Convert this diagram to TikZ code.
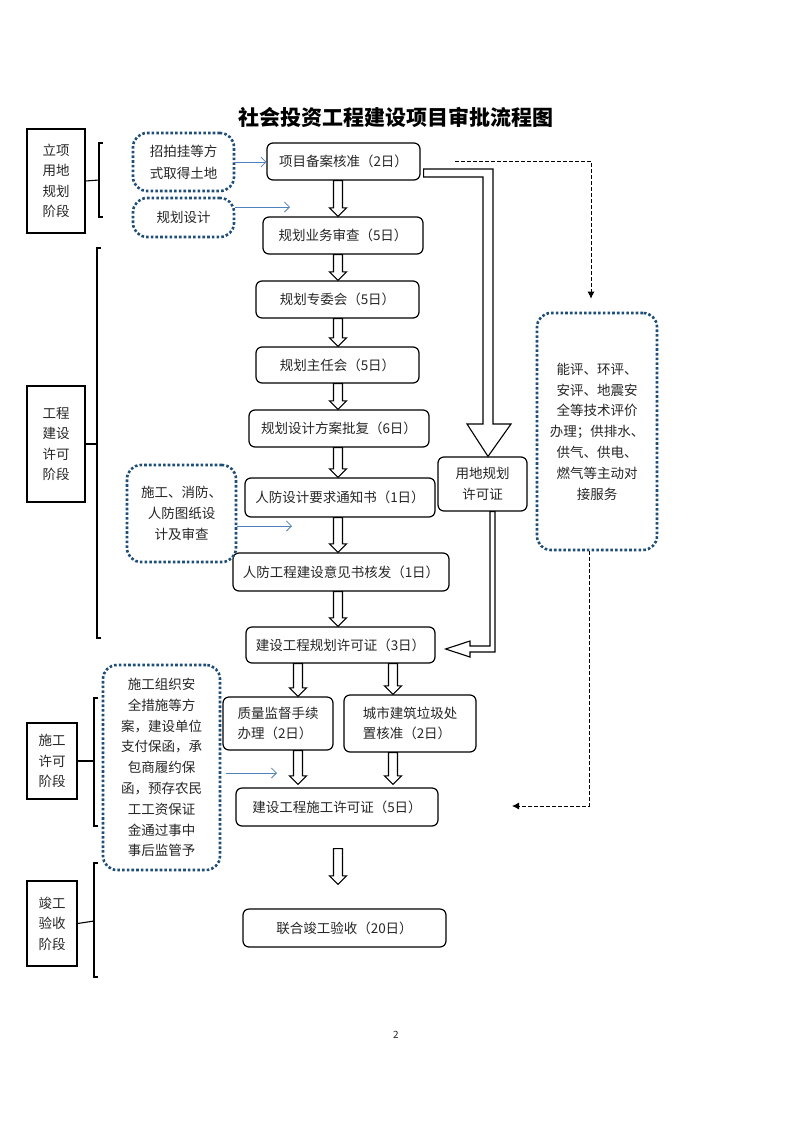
\documentclass[tikz,border=0pt]{standalone}
\usepackage{fontspec}
\setmainfont{Noto Sans CJK SC}
\usetikzlibrary{calc,arrows.meta}
\definecolor{navy}{HTML}{1F4E79}
\definecolor{lblue}{HTML}{4F81BD}
\definecolor{txt}{HTML}{262626}
\newcommand\mybox[7]{\node[#2, minimum width={#5pt-#3pt}, minimum height={#6pt-#4pt}] (#1) at ({(#3+#5)/2},{(#4+#6)/2}) {#7};}
\tikzset{
  mainbox/.style={draw=black, line width=1.2pt, rounded corners=6pt, inner sep=0pt, align=center, text=txt,
    font=\fontsize{13.5}{20.5}\selectfont},
  stagebox/.style={draw=black, line width=1.3pt, inner sep=0pt, align=center, text=txt,
    font=\fontsize{13.5}{20.5}\selectfont},
  dotbox/.style={draw=navy, line width=2.6pt, dash pattern=on 2.6pt off 2.1pt, rounded corners=14pt,
    inner sep=0pt, align=center, text=txt, font=\fontsize{13.5}{20.8}\selectfont},
  bracket/.style={draw=black, line width=1.1pt},
  bluearrow/.style={draw=lblue, line width=0.8pt, -{Straight Barb[length=5pt,width=10pt]}},
  dasharrow/.style={draw=black, line width=0.9pt, dash pattern=on 3.5pt off 2.5pt, -{Latex[length=7pt,width=7pt]}},
  hollowarrow/.style={draw=black, fill=white, line width=1.1pt, line join=miter,
    to path={let \p1=(\tikztostart), \p2=(\tikztotarget) in
      (\x1-4.5pt,\y1) -- (\x1-4.5pt,\y2+8.5pt) -- (\x1-8.5pt,\y2+8.5pt) -- (\x1,\y2)
      -- (\x1+8.5pt,\y2+8.5pt) -- (\x1+4.5pt,\y2+8.5pt) -- (\x1+4.5pt,\y1) -- cycle}},
  hollowL/.style={draw=black, fill=white, line width=1.1pt, line join=miter}
}
\begin{document}
\begin{tikzpicture}[x=1pt,y=-1pt]
\fill[white] (0,0) rectangle (793,1122);
\useasboundingbox (0,0) rectangle (793,1122);

% title
\node[font=\fontsize{21}{25}\selectfont\bfseries, text=black] (title) at (396,117) {社会投资工程建设项目审批流程图};

% stage boxes
\mybox{s1}{stagebox}{27}{129}{85}{233}{立项\\用地\\规划\\阶段}
\mybox{s2}{stagebox}{27}{386}{85}{502}{工程\\建设\\许可\\阶段}
\mybox{s3}{stagebox}{27}{723}{77}{799}{施工\\许可\\阶段}
\mybox{s4}{stagebox}{27}{881}{77}{966}{竣工\\验收\\阶段}

% brackets
\coordinate (b1) at (99,180);
\draw[bracket] (s1.east) -- (b1);
\draw[bracket] (103,143) -- (99,143) -- (99,217) -- (103,217);
\coordinate (b2) at (97,444);
\draw[bracket] (s2.east) -- (b2);
\draw[bracket] (101,248) -- (97,248) -- (97,638) -- (101,638);
\coordinate (b3) at (94,761);
\draw[bracket] (s3.east) -- (b3);
\draw[bracket] (98,698) -- (94,698) -- (94,826) -- (98,826);
\coordinate (b4) at (94,921);
\draw[bracket] (s4.east) -- (b4);
\draw[bracket] (98,863) -- (94,863) -- (94,977) -- (98,977);

% main boxes
\mybox{xm}{mainbox}{267}{143}{420}{180}{项目备案核准（2日）}
\mybox{gh1}{mainbox}{263}{217}{423}{254}{规划业务审查（5日）}
\mybox{gh2}{mainbox}{256}{281}{419}{318}{规划专委会（5日）}
\mybox{gh3}{mainbox}{256}{347}{419}{383}{规划主任会（5日）}
\mybox{gh4}{mainbox}{249}{410}{429}{447}{规划设计方案批复（6日）}
\mybox{rf1}{mainbox}{245}{478}{435}{517}{人防设计要求通知书（1日）}
\mybox{rf2}{mainbox}{233}{553}{449}{591}{人防工程建设意见书核发（1日）}
\mybox{ghxk}{mainbox}{246}{627}{435}{663}{建设工程规划许可证（3日）}
\mybox{zl}{mainbox, align=left}{223}{697}{333}{750}{质量监督手续\\办理（2日）}
\mybox{lj}{mainbox, align=left}{344}{695}{476}{752}{城市建筑垃圾处\\置核准（2日）}
\mybox{sgxk}{mainbox}{236}{788}{438}{826}{建设工程施工许可证（5日）}
\mybox{jg}{mainbox}{243}{909}{446}{947}{联合竣工验收（20日）}
\mybox{yd}{mainbox}{438}{457}{527}{511}{用地规划\\许可证}

% dotted boxes
\mybox{d1}{dotbox, font=\fontsize{13.5}{22}\selectfont}{133}{133}{234}{191}{招拍挂等方\\式取得土地}
\mybox{d2}{dotbox}{133}{198}{234}{237}{规划设计}
\mybox{d3}{dotbox}{127}{465}{236}{562}{施工、消防、\\人防图纸设\\计及审查}
\mybox{d4}{dotbox}{103}{665}{220}{870}{施工组织安\\全措施等方\\案，建设单位\\支付保函，承\\包商履约保\\函，预存农民\\工工资保证\\金通过事中\\事后监管予}
\mybox{rb}{dotbox}{537}{313}{657}{550}{能评、环评、\\安评、地震安\\全等技术评价\\办理；供排水、\\供气、供电、\\燃气等主动对\\接服务}

% blue arrows
\coordinate (e2) at (290,207);
\coordinate (e3) at (292,526);
\coordinate (e4) at (277,773);
\draw[bluearrow] (d1.east) -- (d1.east -| xm.west);
\draw[bluearrow] (d2.east |- e2) -- (e2);
\draw[bluearrow] (d3.east |- e3) -- (e3);
\draw[bluearrow] ($(d4.east |- e4)+(5,0)$) -- (e4);

% hollow arrows (main column)
\coordinate (c1) at (338,0);
\coordinate (c2) at (298,0);
\coordinate (c3) at (393,0);
\draw[hollowarrow] (xm.south -| c1) to (gh1.north -| c1);
\draw[hollowarrow] (gh1.south -| c1) to (gh2.north -| c1);
\draw[hollowarrow] (gh2.south -| c1) to (gh3.north -| c1);
\draw[hollowarrow] (gh3.south -| c1) to (gh4.north -| c1);
\draw[hollowarrow] (gh4.south -| c1) to (rf1.north -| c1);
\draw[hollowarrow] (rf1.south -| c1) to (rf2.north -| c1);
\draw[hollowarrow] (rf2.south -| c1) to (ghxk.north -| c1);
\draw[hollowarrow] (ghxk.south -| c2) to (zl.north -| c2);
\draw[hollowarrow] (ghxk.south -| c3) to (lj.north -| c3);
\draw[hollowarrow] (zl.south -| c2) to ($(sgxk.north -| c2)+(0,-3)$);
\draw[hollowarrow] (lj.south -| c3) to ($(sgxk.north -| c3)+(0,-3)$);
\draw[hollowarrow] ($(sgxk.south -| c1)+(0,22)$) to ($(jg.north -| c1)+(0,-24)$);

% big L arrow to 用地规划许可证
\draw[hollowL] ($(xm.east)+(3,7.5)$) -- (493,169) -- (493,424) -- (511,424)
  -- ($(yd.north)+(5.5,0)$) -- (467,424) -- (483,424) -- (483,177)
  -- ($(xm.east)+(3,15.5)$) -- cycle;
% narrow L arrow to 建设工程规划许可证
\draw[hollowL] ($(yd.south)+(7.5,0)$) -- ($(yd.south)+(12.5,0)$) -- (495,652) -- (470,652)
  -- (470,657) -- ($(ghxk.east)+(10,4)$) -- (470,641) -- (470,646) -- (490,646) -- cycle;

% dashed arrows
\coordinate (ds) at (455,161);
\coordinate (dc) at (591,161);
\draw[dasharrow, shorten >=13pt] (ds) -- (dc) -- (dc |- rb.north);
\coordinate (dk) at (589,806);
\coordinate (de) at (512,806);
\draw[dasharrow] (dk |- rb.south) -- (dk) -- (de);

% page number
\node[font=\fontsize{10}{12}\selectfont, text=txt] (pg) at (396,1035) {2};
\end{tikzpicture}
\end{document}
